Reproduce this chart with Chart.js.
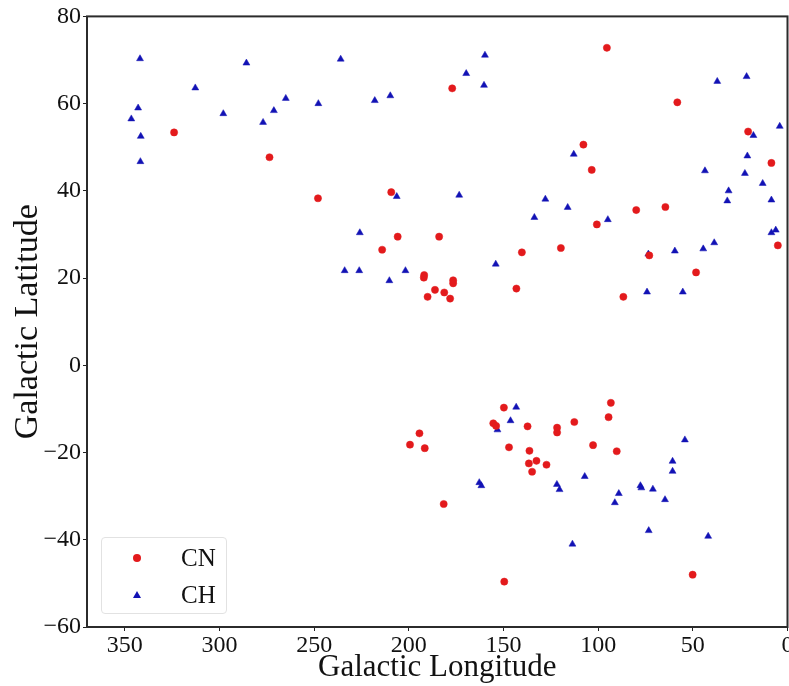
<!DOCTYPE html>
<html>
<head>
<meta charset="utf-8">
<script src="https://cdn.jsdelivr.net/npm/chart.js@4/dist/chart.umd.min.js"></script>
<style>
    html, body { margin: 0; padding: 0; background: #fff; overflow: hidden; width: 789px; height: 686px; }
    #wrap { position: relative; width: 792px; height: 686px; }
    #legend {
        position: absolute; left: 101px; top: 537px; width: 124px; height: 75px;
        border: 1px solid #e2e2e2; border-radius: 4px; background: rgba(255,255,255,0.8);
        font-family: 'Liberation Serif', 'Times New Roman', serif; font-size: 25px; color: #111;
    }
    .row { position: absolute; left: 0; height: 30px; line-height: 30px; }
    .row span { position: absolute; left: 79px; top: 0; }
    .dot { position: absolute; left: 31px; top: 11px; width: 8px; height: 8px; border-radius: 50%; background: #e31a1c; }
    .tri { position: absolute; left: 31px; top: 11px; width: 0; height: 0;
           border-left: 4px solid transparent; border-right: 4px solid transparent; border-bottom: 7px solid #1212b5; }
</style>
</head>
<body>
<div id="wrap">
    <canvas id="chart" width="792" height="686"></canvas>
    <div id="legend">
        <div class="row" style="top:5px"><div class="dot"></div><span>CN</span></div>
        <div class="row" style="top:42px"><div class="tri"></div><span>CH</span></div>
    </div>
</div>
<script>
// CN stars: galactic longitude / latitude (deg)
const cn_lon = [324.0, 273.6, 248.0, 177.1, 209.3, 95.4, 58.2, 20.8, 107.8, 8.5,
    103.4, 79.9, 64.5, 100.7, 5.1, 119.7, 73.0, 48.3, 86.7, 205.9,
    184.0, 214.1, 140.3, 191.9, 192.1, 176.6, 176.6, 186.2, 181.3, 190.1,
    178.2, 143.2, 149.8, 155.4, 153.9, 137.3, 121.7, 121.7, 194.4, 199.4,
    191.6, 147.1, 136.3, 136.6, 132.6, 127.3, 134.9, 181.6, 149.6, 93.3,
    94.5, 112.6, 102.7, 90.2, 50.1];
const cn_lat = [53.4, 47.7, 38.3, 63.5, 39.7, 72.8, 60.3, 53.6, 50.6, 46.4,
    44.8, 35.6, 36.3, 32.3, 27.5, 26.9, 25.2, 21.3, 15.7, 29.5,
    29.5, 26.5, 25.9, 20.7, 20.1, 19.5, 18.8, 17.3, 16.7, 15.7,
    15.3, 17.6, -9.7, -13.3, -13.9, -14.0, -14.3, -15.4, -15.6, -18.2,
    -19.0, -18.8, -19.6, -22.5, -21.9, -22.8, -24.4, -31.8, -49.6, -8.6,
    -11.9, -13.0, -18.3, -19.7, -48.0];

// CH stars
const ch_lon = [342.0, 285.8, 236.0, 312.8, 343.0, 346.6, 298.0, 265.0, 271.3, 277.0,
    247.8, 341.6, 341.8, 218.0, 209.8, 159.8, 169.7, 160.3, 206.4, 173.4,
    127.9, 133.7, 37.1, 21.6, 4.1, 18.0, 112.9, 21.2, 43.6, 22.5,
    13.1, 31.1, 31.8, 8.5, 116.1, 94.9, 8.5, 6.2, 73.5, 59.5,
    44.5, 38.7, 74.2, 55.3, 225.9, 233.9, 226.2, 201.8, 210.3, 154.1,
    143.3, 146.3, 153.2, 162.8, 161.7, 121.8, 120.4, 54.2, 60.7, 60.7,
    107.1, 77.7, 77.2, 71.1, 89.1, 91.2, 64.7, 73.3, 41.9, 113.6];
const ch_lat = [70.3, 69.3, 70.2, 63.6, 59.0, 56.5, 57.7, 61.2, 58.4, 55.7,
    60.0, 52.5, 46.7, 60.7, 61.8, 71.1, 66.9, 64.2, 38.7, 39.0,
    38.1, 33.9, 65.1, 66.2, 54.8, 52.7, 48.4, 48.0, 44.6, 44.0,
    41.7, 40.0, 37.7, 37.9, 36.2, 33.4, 30.4, 31.0, 25.5, 26.2,
    26.7, 28.1, 16.8, 16.8, 30.4, 21.7, 21.7, 21.7, 19.4, 23.2,
    -9.6, -12.7, -14.8, -26.9, -27.6, -27.3, -28.5, -17.1, -22.0, -24.3,
    -25.5, -27.6, -28.1, -28.4, -29.4, -31.5, -30.8, -37.9, -39.2, -41.0];

const lon_ticks = [0, 50, 100, 150, 200, 250, 300, 350];
const lat_ticks = [-60, -40, -20, 0, 20, 40, 60, 80];

const font = 'Liberation Serif';

function to_points(xs, ys) {
    return xs.map((x, i) => ({ x: x, y: ys[i] }));
}

// matplotlib-like box around the plot
const frame = {
    id: 'frame',
    afterDatasetsDraw(chart) {
        const a = chart.chartArea;
        const ctx = chart.ctx;
        ctx.save();
        ctx.strokeStyle = '#2b2b2b';
        ctx.lineWidth = 2;
        ctx.strokeRect(a.left, a.top, a.right - a.left, a.bottom - a.top);
        ctx.restore();
    }
};

new Chart(document.getElementById('chart'), {
    type: 'scatter',
    data: {
        datasets: [{
            label: 'CN',
            data: to_points(cn_lon, cn_lat),
            pointStyle: 'circle',
            pointRadius: 3.6,
            borderWidth: 0.5,
            backgroundColor: '#e31a1c',
            borderColor: '#e31a1c',
        }, {
            label: 'CH',
            data: to_points(ch_lon, ch_lat),
            pointStyle: 'triangle',
            pointRadius: 4,
            borderWidth: 0.5,
            backgroundColor: '#1212b5',
            borderColor: '#1212b5',
        }]
    },
    options: {
        responsive: false,
        animation: false,
        layout: { padding: { top: 15, right: 0, left: 0, bottom: 0 } },
        plugins: {
            legend: { display: false },
            tooltip: { enabled: false },
        },
        scales: {
            x: {
                type: 'linear',
                reverse: true,
                min: 0,
                max: 370,
                afterBuildTicks: (scale) => { scale.ticks = lon_ticks.map(v => ({ value: v })); },
                afterFit: (scale) => { scale.height = 59; },
                border: { display: false },
                grid: { drawOnChartArea: false, drawTicks: true, tickLength: 4, color: '#222', tickWidth: 1 },
                ticks: { color: '#111', font: { family: font, size: 24 }, padding: 0, maxRotation: 0 },
                title: {
                    display: true, text: 'Galactic Longitude', color: '#111',
                    font: { family: font, size: 31 }, padding: { top: 2, bottom: 0 },
                },
            },
            y: {
                min: -60,
                max: 80,
                afterBuildTicks: (scale) => { scale.ticks = lat_ticks.map(v => ({ value: v })); },
                afterFit: (scale) => { scale.width = 87; },
                border: { display: false },
                grid: { drawOnChartArea: false, drawTicks: true, tickLength: 4, color: '#222', tickWidth: 1 },
                ticks: {
                    color: '#111', font: { family: font, size: 24 }, padding: 2,
                    callback: (v) => v < 0 ? '\u2212' + Math.abs(v) : String(v),
                },
                title: {
                    display: true, text: 'Galactic Latitude', color: '#111',
                    font: { family: font, size: 34 }, padding: { top: 8, bottom: 0 },
                },
            },
        },
    },
    plugins: [frame],
});
</script>
</body>
</html>
